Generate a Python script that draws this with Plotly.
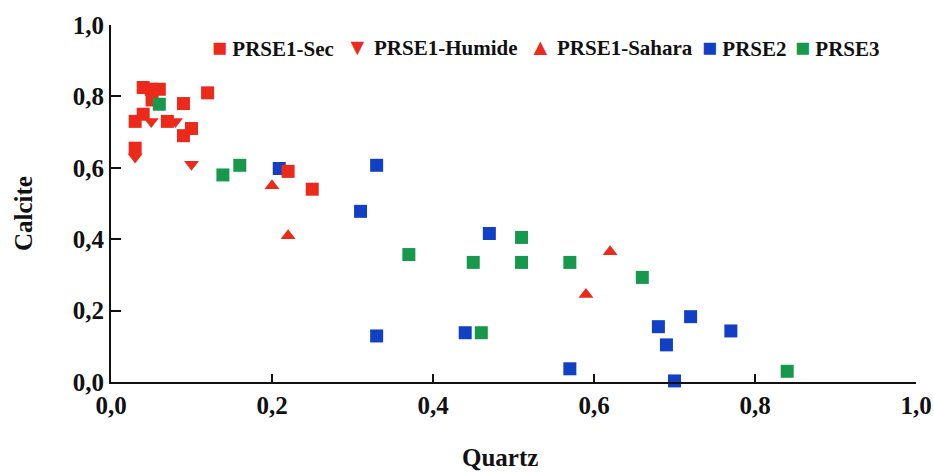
import plotly.graph_objects as go

# PRSE1-Sec (red squares)
sec_x = [0.04, 0.05, 0.06, 0.051, 0.03, 0.04, 0.07, 0.09, 0.09, 0.10, 0.12, 0.03, 0.22, 0.25]
sec_y = [0.825, 0.82, 0.82, 0.79, 0.73, 0.75, 0.73, 0.78, 0.69, 0.71, 0.81, 0.655, 0.59, 0.54]
# PRSE1-Humide (red down triangles)
hum_x = [0.03, 0.05, 0.08, 0.10]
hum_y = [0.63, 0.73, 0.73, 0.61]
# PRSE1-Sahara (red up triangles)
sah_x = [0.20, 0.22, 0.59, 0.62]
sah_y = [0.55, 0.41, 0.245, 0.365]
# PRSE2 (blue squares)
p2_x = [0.209, 0.33, 0.31, 0.33, 0.47, 0.44, 0.57, 0.68, 0.69, 0.72, 0.77, 0.70]
p2_y = [0.598, 0.607, 0.478, 0.129, 0.416, 0.138, 0.037, 0.155, 0.104, 0.183, 0.143, 0.003]
# PRSE3 (green squares)
p3_x = [0.06, 0.139, 0.16, 0.37, 0.45, 0.51, 0.51, 0.46, 0.57, 0.66, 0.84]
p3_y = [0.778, 0.58, 0.607, 0.357, 0.335, 0.405, 0.335, 0.138, 0.335, 0.293, 0.03]

tick_vals = [0, 0.2, 0.4, 0.6, 0.8, 1.0]
tick_text = ["0,0", "0,2", "0,4", "0,6", "0,8", "1,0"]

series_names = ["PRSE1-Sec", "PRSE1-Humide", "PRSE1-Sahara", "PRSE2", "PRSE3"]

RED = "#ec2a1c"
BLUE = "#1240c4"
GREEN = "#16994c"
INK = "#111111"
FONT = "Liberation Serif"

fig = go.Figure()

def add(name, xs, ys, color, symbol):
    fig.add_trace(go.Scatter(
        x=xs, y=ys, mode="markers", name=name,
        marker=dict(color=color, symbol=symbol, size=13, line=dict(width=0)),
        cliponaxis=False,
    ))

add(series_names[3], p2_x, p2_y, BLUE, "square")
add(series_names[0], sec_x, sec_y, RED, "square")
add(series_names[1], hum_x, hum_y, RED, "triangle-down")
add(series_names[2], sah_x, sah_y, RED, "triangle-up")
add(series_names[4], p3_x, p3_y, GREEN, "square")

L, R, T, B = 111, 18, 25, 91
W, H = 934, 473
pw, ph = W - L - R, H - T - B

def px_to_paper_x(px):
    return (px - L) / pw

def px_to_paper_y(py):
    return (H - B - py) / ph

axis_font = dict(family=FONT, size=25, weight="bold", color=INK)

# compact legend written as text (symbol glyph + series name)
legend_items = [
    (series_names[0], RED, "■", 25, 211),
    (series_names[1], RED, "▼", 23, 345),
    (series_names[2], RED, "▲", 23, 528),
    (series_names[3], BLUE, "■", 25, 701),
    (series_names[4], GREEN, "■", 25, 794),
]
annotations = []
for name, color, glyph, gsize, left in legend_items:
    annotations.append(dict(
        text=f"<span style='color:{color};font-size:{gsize}px'>{glyph}</span><b> {name}</b>",
        xref="paper", yref="paper", x=px_to_paper_x(left), y=px_to_paper_y(47),
        xanchor="left", yanchor="middle", showarrow=False, borderpad=0,
        font=dict(family=FONT, size=21, color=INK),
    ))

annotations += [
    dict(text="<b>Quartz</b>", xref="paper", yref="paper",
         x=px_to_paper_x(500), y=px_to_paper_y(458),
         xanchor="center", yanchor="middle", showarrow=False,
         font=dict(family=FONT, size=25, color=INK)),
    dict(text="<b>Calcite</b>", xref="paper", yref="paper",
         x=px_to_paper_x(23), y=px_to_paper_y(214), textangle=-90,
         xanchor="center", yanchor="middle", showarrow=False,
         font=dict(family=FONT, size=25, color=INK)),
]

fig.update_layout(
    width=W, height=H,
    margin=dict(l=L, r=R, t=T, b=B, autoexpand=False),
    paper_bgcolor="white", plot_bgcolor="white",
    font=dict(family=FONT, color=INK),
    showlegend=False,
    xaxis=dict(
        range=[0, 1], tickvals=tick_vals, ticktext=tick_text,
        showgrid=False, zeroline=False, automargin=False,
        showline=True, linecolor=INK, linewidth=2,
        ticks="inside", ticklen=8, tickwidth=2, tickcolor=INK,
        tickfont=axis_font,
    ),
    yaxis=dict(
        range=[0, 1], tickvals=tick_vals, ticktext=tick_text,
        showgrid=False, zeroline=False, automargin=False,
        showline=True, linecolor=INK, linewidth=2,
        ticks="inside", ticklen=10, tickwidth=2, tickcolor=INK,
        tickfont=axis_font,
    ),
    annotations=annotations,
)

fig.write_html("out.html")
